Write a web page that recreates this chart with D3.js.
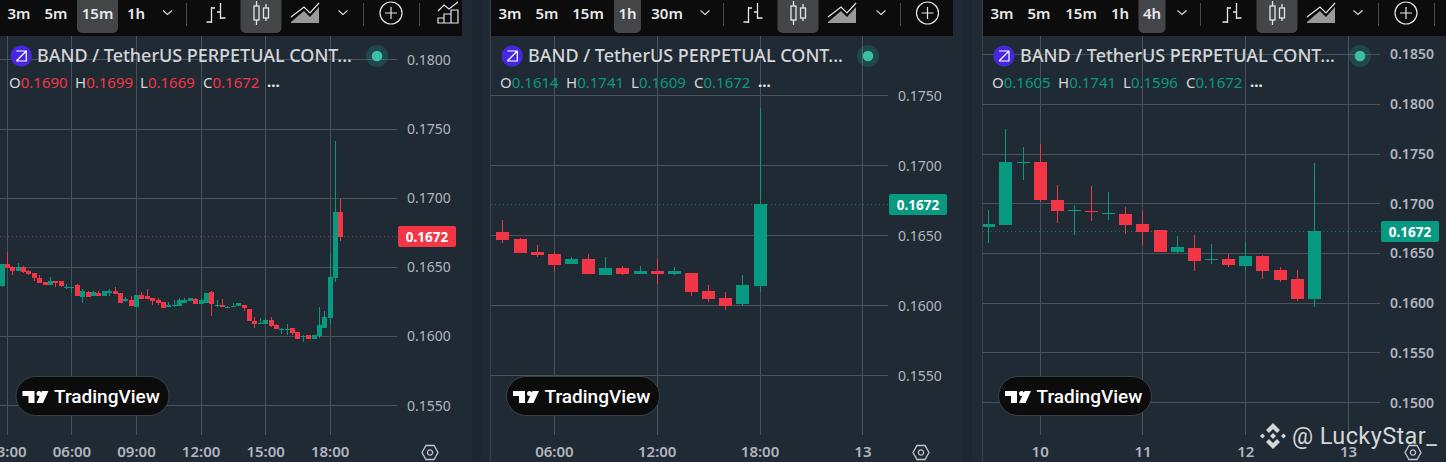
<!DOCTYPE html>
<html>
<head>
<meta charset="utf-8">
<script src="https://cdn.jsdelivr.net/npm/d3@7"></script>
<style>
  html, body { margin: 0; padding: 0; background: #202a35; overflow: hidden; }
  svg { display: block; }
  text { font-family: "Noto Sans", Roboto, sans-serif; }
</style>
</head>
<body>
<svg id="chart" width="1446" height="462"></svg>
<script>
// 15m panel, first candle is one bar before 03:00
const opens15 = [.16367,.16524,.16502,.16473,.16502,.16473,.16459,.16423,.16394,.16372,.16401,.16401,.16350,.16350,.16372,.16285,.16321,.16292,.16314,.16292,.16314,.16329,.16314,.16256,.16263,.16213,.16300,.16292,.16278,.16263,.16249,.16213,.16220,.16220,.16242,.16256,.16271,.16234,.16242,.16321,.16220,.16227,.16205,.16213,.16220,.16227,.16198,.16111,.16089,.16089,.16118,.16082,.16046,.16046,.16060,.16031,.15995,.16010,.15981,.16002,.16060,.16133,.16423,.16901];
const highs15 = [.16524,.16611,.16510,.16531,.16510,.16481,.16459,.16444,.16394,.16430,.16401,.16401,.16379,.16357,.16379,.16343,.16329,.16329,.16329,.16329,.16343,.16357,.16314,.16285,.16292,.16300,.16321,.16343,.16278,.16278,.16249,.16249,.16263,.16278,.16278,.16278,.16278,.16278,.16314,.16329,.16263,.16271,.16220,.16242,.16242,.16227,.16198,.16140,.16133,.16133,.16140,.16089,.16060,.16089,.16060,.16031,.16010,.16010,.16010,.16213,.16184,.16604,.17415,.16995];
const lows15 = [.16360,.16495,.16444,.16473,.16459,.16444,.16401,.16386,.16372,.16372,.16357,.16357,.16343,.16314,.16292,.16242,.16285,.16292,.16292,.16292,.16292,.16307,.16242,.16249,.16220,.16213,.16271,.16271,.16227,.16227,.16205,.16213,.16213,.16220,.16242,.16256,.16234,.16234,.16242,.16147,.16213,.16213,.16205,.16213,.16220,.16184,.16111,.16060,.16089,.16089,.16068,.16053,.16017,.16010,.16010,.15981,.15959,.15981,.15981,.15988,.16060,.16089,.16394,.16691];
const closes15 = [.16524,.16495,.16473,.16502,.16466,.16452,.16423,.16386,.16372,.16401,.16386,.16365,.16357,.16357,.16292,.16329,.16285,.16321,.16292,.16329,.16329,.16307,.16242,.16271,.16220,.16300,.16271,.16271,.16256,.16242,.16205,.16227,.16227,.16263,.16263,.16278,.16234,.16263,.16314,.16234,.16227,.16213,.16213,.16220,.16242,.16205,.16111,.16089,.16097,.16118,.16075,.16053,.16053,.16053,.16024,.15981,.16002,.15981,.16010,.16082,.16140,.16430,.16901,.16717];

// 1h panel, one candle an hour from 03:00
const opens1h = [.16524,.16474,.16381,.16367,.16295,.16331,.16217,.16267,.16224,.16245,.16224,.16231,.16102,.16052,.16010,.16138];
const highs1h = [.16610,.16481,.16431,.16381,.16345,.16367,.16345,.16281,.16281,.16331,.16274,.16231,.16145,.16095,.16217,.17410];
const lows1h = [.16445,.16374,.16345,.16245,.16295,.16224,.16217,.16217,.16224,.16152,.16217,.16067,.16024,.15967,.15995,.16095];
const closes1h = [.16467,.16374,.16360,.16288,.16331,.16224,.16267,.16224,.16245,.16224,.16245,.16095,.16045,.15995,.16145,.16724];

// 4h panel, six candles a day
const opens4h = [.16767,.16787,.17410,.17420,.17038,.16928,.16928,.16898,.16898,.16797,.16737,.16516,.16556,.16436,.16446,.16375,.16476,.16335,.16245,.16044];
const highs4h = [.16938,.17752,.17571,.17601,.17189,.16988,.17179,.17119,.16968,.16928,.16737,.16677,.16687,.16596,.16496,.16616,.16486,.16365,.16335,.17410];
const lows4h = [.16606,.16787,.17240,.17018,.16807,.16687,.16827,.16838,.16697,.16586,.16516,.16506,.16325,.16395,.16365,.16325,.16245,.16214,.16023,.15963];
const closes4h = [.16797,.17420,.17420,.17038,.16928,.16938,.16918,.16908,.16787,.16717,.16516,.16566,.16425,.16446,.16385,.16476,.16325,.16235,.16044,.16727];

const ticks15 = [.18,.175,.17,.165,.16,.155];
const ticks1h = [.175,.17,.165,.16,.155];
const ticks4h = [.185,.18,.175,.17,.165,.16,.155,.15];
const timeTicks15 = ['03:00','06:00','09:00','12:00','15:00','18:00'];
const timeTicks1h = ['06:00','12:00','18:00','13'];
const timeTicks4h = ['10','11','12','13'];
const intervals15 = ['3m','5m','15m','1h'];
const intervals1h = ['3m','5m','15m','1h','30m'];
const intervals4h = ['3m','5m','15m','1h','4h'];

const upColor = '#089981', downColor = '#f23645';
const svg = d3.select('#chart');

// dark strips and borders between the screenshots
svg.append('rect').attr('x', 472).attr('y', 0).attr('width', 9).attr('height', 462).attr('fill', '#1c2530');
svg.append('rect').attr('x', 962).attr('y', 0).attr('width', 10).attr('height', 462).attr('fill', '#1c2530');
[490, 982].forEach(bx => svg.append('line').attr('x1', bx + 0.5).attr('x2', bx + 0.5).attr('y1', 0).attr('y2', 462).attr('stroke', '#3d4245'));

const panels = [
  { left: 0, width: 462, plotLeft: 0, plotRight: 397,
    o: opens15, h: highs15, l: lows15, c: closes15, firstIndex: -1,
    x0: 7.4, step: 5.38, bodyW: 5, yTop: [.18, 59.8], yStep: 69.2,
    ticks: ticks15, timeTicks: timeTicks15, timeIdx: [0,12,24,36,48,60],
    intervals: intervals15, active: '15m', intervalX: [19,56,97.5,136], chevX: 167.5,
    sepX: [186,363,419], barX: 216, candleX: 261, areaX: 305, chev2X: 343, plusX: 391, extra: true,
    ohlc: ['0.1690','0.1699','0.1669','0.1672'], ohlcColor: downColor, tagColor: downColor,
    ohlcX: [9,75,140,203], dotsX: 267, gearX: 430, titleX: 37, logoX: 21.3, dotX: 377, tagX: 398, labelX: 407, tickWeight: 400, badgeX: 15.5 },
  { left: 491, width: 462, plotLeft: 491, plotRight: 888,
    o: opens1h, h: highs1h, l: lows1h, c: closes1h, firstIndex: 0,
    x0: 502.95, step: 17.14, bodyW: 13, yTop: [.175, 95.7], yStep: 70,
    ticks: ticks1h, timeTicks: timeTicks1h, timeIdx: [3,9,15,21],
    intervals: intervals1h, active: '1h', intervalX: [510,547,588,627.5,667], chevX: 705,
    sepX: [723,900], barX: 753, candleX: 798, areaX: 842, chev2X: 881, plusX: 927.5, extra: false,
    ohlc: ['0.1614','0.1741','0.1609','0.1672'], ohlcColor: upColor, tagColor: upColor,
    ohlcX: [500,566,631,694], dotsX: 758, gearX: 921, titleX: 528, logoX: 512.3, dotX: 868, tagX: 889, labelX: 898, tickWeight: 400, badgeX: 506 },
  { left: 983, width: 463, plotLeft: 983, plotRight: 1380,
    o: opens4h, h: highs4h, l: lows4h, c: closes4h, firstIndex: 0,
    x0: 988.8, step: 17.13, bodyW: 13, yTop: [.185, 54.5], yStep: 49.75,
    ticks: ticks4h, timeTicks: timeTicks4h, timeIdx: [3,9,15,21],
    intervals: intervals4h, active: '4h', intervalX: [1002,1039,1081,1120,1152], chevX: 1182,
    sepX: [1200,1378,1434], barX: 1232, candleX: 1277, areaX: 1321, chev2X: 1358, plusX: 1406, extra: false,
    ohlc: ['0.1605','0.1741','0.1596','0.1672'], ohlcColor: upColor, tagColor: upColor,
    ohlcX: [992,1058,1123,1186], dotsX: 1250, gearX: 1413, titleX: 1020, logoX: 1004, dotX: 1360, tagX: 1381, labelX: 1390, tickWeight: 600, badgeX: 998 }
];

panels.forEach(drawPanel);

// watermark on top of the third panel
const mark = svg.append('g').attr('transform', 'translate(1273,436)').attr('fill', '#d4d6d8');
mark.append('path').attr('d', 'M0,-13L7,-6L4,-3L0,-7L-4,-3L-7,-6Z');
mark.append('path').attr('d', 'M0,13L7,6L4,3L0,7L-4,3L-7,6Z');
mark.append('path').attr('d', 'M0,-3L3,0L0,3L-3,0Z');
mark.append('path').attr('d', 'M-10.5,-2.5L-8,0L-10.5,2.5L-13,0Z');
mark.append('path').attr('d', 'M10.5,-2.5L13,0L10.5,2.5L8,0Z');
svg.append('text').attr('x', 1292).attr('y', 444).attr('fill', '#d4d6d8')
  .style('font-family', 'Roboto').style('font-size', '23.5px').style('letter-spacing', '0.4px').text('@ LuckyStar_');

function drawPanel(p, idx) {
  const g = svg.append('g');
  const clipId = 'clip' + idx;
  g.append('clipPath').attr('id', clipId).append('rect')
    .attr('x', p.plotLeft).attr('y', 36).attr('width', p.plotRight - p.plotLeft).attr('height', 399);

  const y = d3.scaleLinear().domain([p.yTop[0], p.yTop[0] - 0.005]).range([p.yTop[1], p.yTop[1] + p.yStep]);
  const x = d3.scaleLinear().domain([0, 1]).range([p.x0, p.x0 + p.step]);
  const px = i => Math.floor(x(i)) + 0.5;
  const py = v => Math.floor(y(v)) + 0.5;

  const plot = g.append('g').attr('clip-path', `url(#${clipId})`);

  // grid
  plot.selectAll('.hgrid').data(p.ticks).enter().append('line')
    .attr('x1', p.plotLeft).attr('x2', p.plotRight)
    .attr('y1', py).attr('y2', py)
    .attr('stroke', '#4a525c').attr('stroke-width', 1);
  plot.selectAll('.vgrid').data(p.timeIdx).enter().append('line')
    .attr('x1', px).attr('x2', px)
    .attr('y1', 36).attr('y2', 435)
    .attr('stroke', '#4a525c').attr('stroke-width', 1);

  // last price line
  plot.append('line').attr('x1', p.plotLeft).attr('x2', p.plotRight)
    .attr('y1', py(.1672)).attr('y2', py(.1672))
    .attr('stroke', p.tagColor).attr('stroke-width', 1).attr('stroke-dasharray', '1 3')
    .attr('stroke-opacity', 0.7);

  // candles
  const rows = d3.range(p.o.length).map(i => ({ i: i + p.firstIndex, o: p.o[i], h: p.h[i], l: p.l[i], c: p.c[i] }));
  const candle = plot.selectAll('.candle').data(rows).enter().append('g');
  candle.append('line')
    .attr('x1', d => px(d.i)).attr('x2', d => px(d.i))
    .attr('y1', d => Math.round(y(d.h))).attr('y2', d => Math.round(y(d.l)))
    .attr('stroke', d => d.c >= d.o ? upColor : downColor);
  candle.append('rect')
    .attr('x', d => px(d.i) - p.bodyW / 2).attr('width', p.bodyW)
    .attr('y', d => Math.round(y(Math.max(d.o, d.c))))
    .attr('height', d => Math.max(1, Math.round(y(Math.min(d.o, d.c))) - Math.round(y(Math.max(d.o, d.c)))))
    .attr('fill', d => d.c >= d.o ? upColor : downColor);

  // price axis
  g.selectAll('.ptick').data(p.ticks).enter().append('text')
    .attr('x', p.labelX).attr('y', d => y(d) + 4.8)
    .attr('fill', '#b2b5be').style('font-size', '14px')
    .style('font-weight', p.tickWeight)
    .text(d => d.toFixed(4));

  g.append('rect').attr('x', p.tagX).attr('y', py(.1672) - 10.5).attr('width', 58).attr('height', 21)
    .attr('rx', 2).attr('fill', p.tagColor);
  g.append('text').attr('x', p.tagX + 29).attr('y', py(.1672) + 5).attr('text-anchor', 'middle')
    .attr('fill', '#fff').style('font-size', '13.5px').style('font-weight', 700).text('0.1672');

  // time axis
  g.selectAll('.ttick').data(p.timeIdx).enter().append('text')
    .attr('x', d => x(d)).attr('y', 457).attr('text-anchor', 'middle')
    .attr('fill', '#b2b5be').style('font-size', '15px').style('font-weight', 600)
    .text((d, i) => p.timeTicks[i]);

  // gear
  const gear = g.append('g').attr('transform', `translate(${p.gearX},452.5)`)
    .attr('fill', 'none').attr('stroke', '#c5c7cc').attr('stroke-width', 1.3);
  gear.append('path').attr('d', 'M-8,0L-4,-7L4,-7L8,0L4,7L-4,7Z');
  gear.append('circle').attr('r', 2.6);

  // toolbar
  const bar = g.append('g');
  bar.append('rect').attr('x', p.left).attr('y', 0).attr('width', p.width).attr('height', 36).attr('fill', '#0c0c0d');
  const activeX = p.intervalX[p.intervals.indexOf(p.active)];
  const activeW = p.active === '15m' ? 41 : 27;
  bar.append('rect').attr('x', activeX - activeW / 2).attr('y', -6).attr('width', activeW).attr('height', 39)
    .attr('rx', 5).attr('fill', '#444547');
  bar.append('rect').attr('x', p.candleX - 20.5).attr('y', -6).attr('width', 41).attr('height', 39)
    .attr('rx', 5).attr('fill', '#444547');
  bar.selectAll('.iv').data(p.intervals).enter().append('text')
    .attr('x', (d, i) => p.intervalX[i]).attr('y', 19).attr('text-anchor', 'middle')
    .attr('fill', '#e8e9ea').style('font-size', '15px').style('font-weight', 600).text(d => d);
  p.sepX.forEach(sx => bar.append('line').attr('x1', sx + 0.5).attr('x2', sx + 0.5).attr('y1', 3).attr('y2', 26).attr('stroke', '#4a4a4c'));
  [p.chevX, p.chev2X].forEach(cx => bar.append('path').attr('d', `M${cx-4.5},10.5L${cx},14.5L${cx+4.5},10.5`)
    .attr('fill', 'none').attr('stroke', '#d6d6d6').attr('stroke-width', 1.2));

  // bars glyph
  bar.append('path').attr('transform', `translate(${p.barX},0)`)
    .attr('d', 'M-4.5,7V23M-4.5,22H-9.5M-4.5,8H-1M4.5,3V19M4.5,12H1M4.5,18H9.5')
    .attr('fill', 'none').attr('stroke', '#e6e6e6').attr('stroke-width', 1.3);
  // candle glyph
  const cg = bar.append('g').attr('transform', `translate(${p.candleX},0)`)
    .attr('fill', 'none').attr('stroke', '#e6e6e6').attr('stroke-width', 1.3);
  cg.append('path').attr('d', 'M-4.5,1V6M-4.5,20V25M5,4V8M5,18V21');
  cg.append('rect').attr('x', -7).attr('y', 6).attr('width', 5).attr('height', 14);
  cg.append('rect').attr('x', 2.5).attr('y', 8).attr('width', 5).attr('height', 10);
  // area glyph
  const ag = bar.append('g').attr('transform', `translate(${p.areaX},0)`);
  ag.append('path').attr('d', 'M-14,22L-1,11L5,17L14,7V23H-14Z').attr('fill', '#9a9a9a');
  ag.append('path').attr('d', 'M-14,17L-1,7L5,13L14,3').attr('fill', 'none').attr('stroke', '#e6e6e6').attr('stroke-width', 1.2);
  // plus in a circle
  const pg = bar.append('g').attr('transform', `translate(${p.plusX},13)`)
    .attr('fill', 'none').attr('stroke', '#e6e6e6').attr('stroke-width', 1.2);
  pg.append('circle').attr('r', 11);
  pg.append('path').attr('d', 'M-6,0H6M0,-6V6');
  if (p.extra) {
    const eg = bar.append('g').attr('transform', 'translate(448,0)').attr('fill', 'none').attr('stroke', '#e6e6e6').attr('stroke-width', 1.2);
    eg.append('path').attr('d', 'M-10,11L-4,5L1,9L10,2');
    eg.append('path').attr('d', 'M-10,23V18H-4V23ZM-4,23V14H3V23ZM3,23V10H10V23Z');
  }

  // legend
  g.append('circle').attr('cx', p.logoX).attr('cy', 56).attr('r', 10.6).attr('fill', '#4527e0');
  g.append('path').attr('transform', `translate(${p.logoX},56)`)
    .attr('d', 'M-5,-5H5V5H-5M5,-5L-5,5').attr('fill', 'none').attr('stroke', '#fff').attr('stroke-width', 1.2);
  g.append('text').attr('x', p.titleX).attr('y', 62).attr('fill', '#d4d6d8')
    .attr('textLength', 315).attr('lengthAdjust', 'spacing')
    .style('font-size', '18px').style('font-weight', 500).text('BAND / TetherUS PERPETUAL CONT...');
  g.append('circle').attr('cx', p.dotX).attr('cy', 56).attr('r', 11).attr('fill', '#22a08a').attr('opacity', 0.25);
  g.append('circle').attr('cx', p.dotX).attr('cy', 56).attr('r', 5.3).attr('fill', '#3bbfa6');

  ['O','H','L','C'].forEach((k, i) => {
    const t = g.append('text').attr('x', p.ohlcX[i]).attr('y', 88).style('font-size', '15px');
    t.append('tspan').attr('fill', '#d4d6d8').text(k);
    t.append('tspan').attr('fill', p.ohlcColor).text(p.ohlc[i]);
  });
  g.append('text').attr('x', p.dotsX).attr('y', 87).attr('fill', '#e8e9ea').style('font-size', '15px').style('font-weight', 700).text('...');

  // TradingView badge
  const b = g.append('g').attr('transform', `translate(${p.badgeX},376)`);
  b.append('rect').attr('x', 0.5).attr('y', 0.5).attr('width', 153).attr('height', 39).attr('rx', 19.5)
    .attr('fill', '#0c0c0d').attr('stroke', '#3c4048');
  b.append('path').attr('d', 'M7,15H19V27H13V20H7ZM21,27L26.5,15H33L27.5,27Z').attr('fill', '#fff');
  b.append('circle').attr('cx', 23.5).attr('cy', 17.5).attr('r', 2.5).attr('fill', '#fff');
  b.append('text').attr('x', 38.5).attr('y', 27).attr('fill', '#fff')
    .style('font-family', 'Roboto').style('font-size', '19px').style('font-weight', 500).text('TradingView');
}
</script>
</body>
</html>
